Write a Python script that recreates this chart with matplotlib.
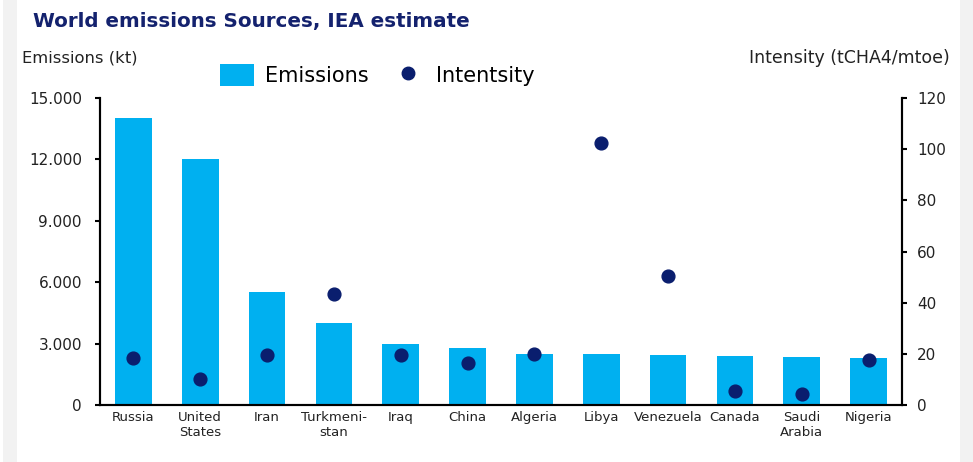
import matplotlib
matplotlib.use("Agg")
import matplotlib.pyplot as plt
from matplotlib.patches import Rectangle
from matplotlib.ticker import FuncFormatter
from matplotlib.lines import Line2D
from matplotlib.patches import Patch

countries = ["Russia", "United\nStates", "Iran", "Turkmeni-\nstan", "Iraq", "China",
             "Algeria", "Libya", "Venezuela", "Canada", "Saudi\nArabia", "Nigeria"]
emissions = [14000, 12000, 5500, 4000, 3000, 2800, 2500, 2500, 2450, 2400, 2350, 2300]
intensity = [18.4, 10.2, 19.5, 43.4, 19.5, 16.4, 19.9, 102.4, 50.4, 5.5, 4.3, 17.6]

BAR_BLUE = "#00B0F0"
NAVY = "#0A1E6E"
TITLE_NAVY = "#14226E"

plt.rcParams["font.family"] = ["DejaVu Sans"]

fig = plt.figure(figsize=(9.73, 4.62), dpi=100)
fig.patch.set_facecolor("white")

# grey frame strips on the sides
fig.patches.append(Rectangle((3 / 973, 0), 14 / 973, 1, transform=fig.transFigure,
                             facecolor="#F2F2F2", edgecolor="none", zorder=0))
fig.patches.append(Rectangle((960 / 973, 0), 13 / 973, 1, transform=fig.transFigure,
                             facecolor="#F2F2F2", edgecolor="none", zorder=0))

ax = fig.add_axes([100 / 973, 1 - 405 / 462, 802 / 973, 307 / 462])
ax2 = ax.twinx()

x = range(len(countries))
ax.bar(x, emissions, width=0.55, color=BAR_BLUE, zorder=2)
ax2.plot(x, intensity, "o", color=NAVY, markersize=9.2, zorder=3)

ax.set_xlim(-0.5, len(countries) - 0.5)
ax.set_ylim(0, 15000)
ax.set_yticks(range(0, 15001, 3000))
ax.yaxis.set_major_formatter(FuncFormatter(lambda v, p: f"{int(v):,}".replace(",", ".")))
ax2.set_ylim(0, 120)
ax2.set_yticks(range(0, 121, 20))

ax.set_xticks(list(x))
ax.set_xticklabels(countries, fontsize=9.5, color="#222222", linespacing=1.2)
ax.tick_params(axis="x", length=0, pad=4)
ax.tick_params(axis="y", length=3.5, width=1.5, labelsize=11, pad=9.5)
ax2.tick_params(axis="y", length=3.5, width=1.5, labelsize=11, pad=7.5)
for lab in ax.get_yticklabels() + ax2.get_yticklabels():
    lab.set_color("#222222")

for a in (ax, ax2):
    a.spines["top"].set_visible(False)
    for s in ("left", "right", "bottom"):
        a.spines[s].set_linewidth(1.5)
ax2.set_zorder(ax.get_zorder() + 1)
ax2.patch.set_visible(False)

fig.text(33 / 973, 1 - 22 / 462, "World emissions Sources, IEA estimate", fontsize=14.3,
         fontweight="bold", color=TITLE_NAVY, va="center", ha="left")
fig.text(22 / 973, 1 - 58 / 462, "Emissions (kt)", fontsize=11.8, color="#222222",
         va="center", ha="left")
fig.text(950 / 973, 1 - 58 / 462, "Intensity (tCHA4/mtoe)", fontsize=12.5, color="#222222",
         va="center", ha="right")

handles = [Patch(facecolor=BAR_BLUE, edgecolor="none"),
           Line2D([], [], marker="o", linestyle="none", color=NAVY, markersize=9)]
fig.legend(handles, ["Emissions", "Intentsity"], loc="center left",
           bbox_to_anchor=(220 / 973, 1 - 75 / 462), ncol=2, frameon=False,
           fontsize=15, handlelength=1.63, handleheight=1.25, handletextpad=0.53,
           columnspacing=1.06, borderpad=0, borderaxespad=0)

fig.savefig("out.png", dpi=100)
